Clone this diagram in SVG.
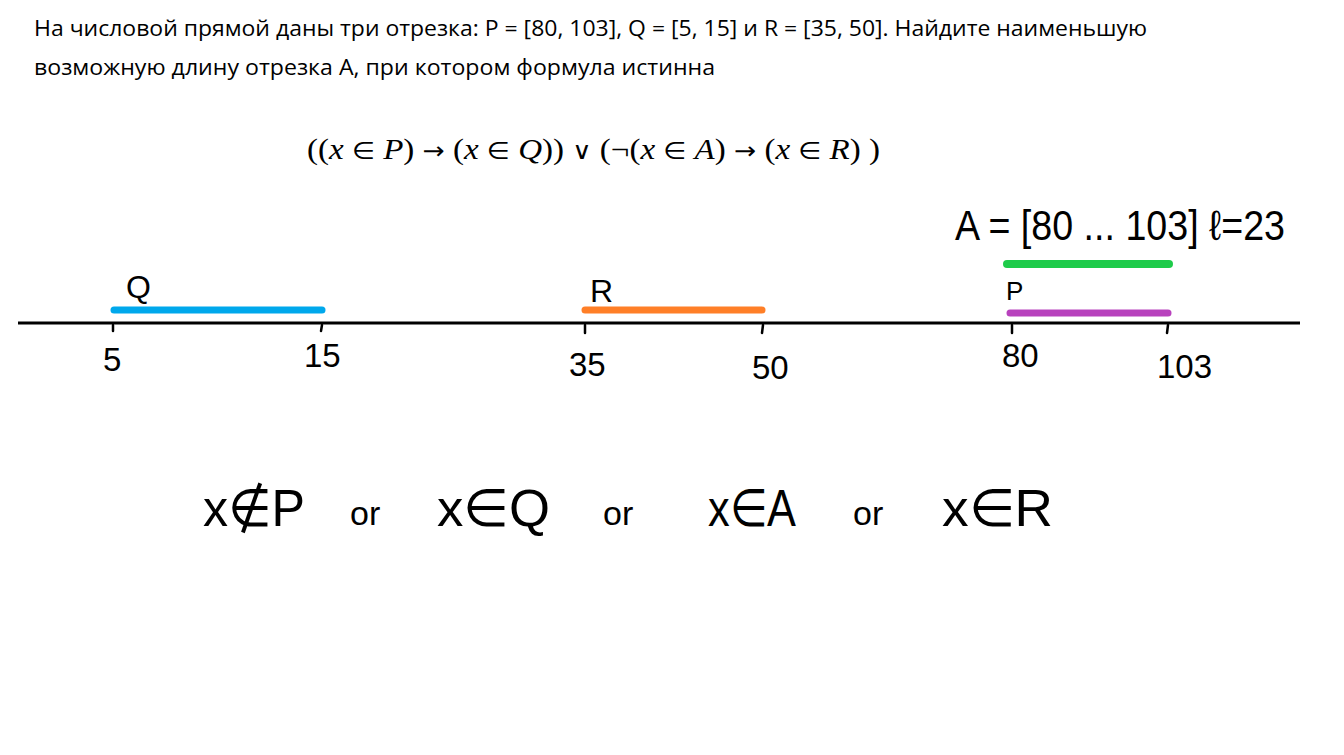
<svg xmlns="http://www.w3.org/2000/svg" width="1344" height="755" viewBox="0 0 1344 755">
<style>
.hdr{font-family:"Open Sans","Liberation Sans",sans-serif;font-size:21px;fill:#000}
.fm{font-family:"Liberation Serif","Times New Roman",serif;font-size:30px;fill:#000}
.sym{font-family:"DejaVu Sans",sans-serif;font-size:24px;font-weight:normal}
.hand{font-family:"Liberation Sans",sans-serif;fill:#000}
.num{font-size:33px}
.big{font-size:52px}
.or{font-size:34px}
.bar{stroke-linecap:round;fill:none}
.tick{stroke:#000;stroke-width:2.5;stroke-linecap:round}
</style>
<rect width="1344" height="755" fill="#fff"/>
<g id="header">
<text class="hdr" x="34" y="36" textLength="1113" lengthAdjust="spacingAndGlyphs">На числовой прямой даны три отрезка: P = [80, 103], Q = [5, 15] и R = [35, 50]. Найдите наименьшую</text>
<text class="hdr" x="34" y="75" textLength="681" lengthAdjust="spacingAndGlyphs">возможную длину отрезка A, при котором формула  истинна</text>
</g>
<g id="formula">
<text class="fm" x="307" y="159" textLength="573" lengthAdjust="spacingAndGlyphs">((<tspan font-style="italic">x</tspan> <tspan class="sym">∈</tspan> <tspan font-style="italic">P</tspan>) <tspan class="sym">→</tspan> (<tspan font-style="italic">x</tspan> <tspan class="sym">∈</tspan> <tspan font-style="italic">Q</tspan>)) <tspan class="sym">∨</tspan> (¬(<tspan font-style="italic">x</tspan> <tspan class="sym">∈</tspan> <tspan font-style="italic">A</tspan>) <tspan class="sym">→</tspan> (<tspan font-style="italic">x</tspan> <tspan class="sym">∈</tspan> <tspan font-style="italic">R</tspan>) )</text>
</g>
<g id="axis">
<line x1="18" y1="323" x2="1300" y2="323" stroke="#000" stroke-width="3"/>
<line class="tick" x1="113" y1="325" x2="113" y2="331"/>
<line class="tick" x1="322" y1="325" x2="321" y2="331"/>
<line class="tick" x1="585" y1="325" x2="585" y2="333"/>
<line class="tick" x1="763" y1="325" x2="762" y2="333"/>
<line class="tick" x1="1012" y1="325" x2="1012" y2="333"/>
<line class="tick" x1="1168" y1="325" x2="1167" y2="333"/>
<text class="hand num" x="103" y="371">5</text>
<text class="hand num" x="304" y="367">15</text>
<text class="hand num" x="569" y="376">35</text>
<text class="hand num" x="752" y="379">50</text>
<text class="hand num" x="1002" y="367">80</text>
<text class="hand num" x="1157" y="378">103</text>
</g>
<g id="Q">
<line class="bar" x1="114" y1="310" x2="322" y2="310" stroke="#00a8ec" stroke-width="7"/>
<text class="hand" x="126" y="298" font-size="32" fill="#00a8ec">Q</text>
</g>
<g id="R">
<line class="bar" x1="585" y1="310" x2="762" y2="310" stroke="#ff7f27" stroke-width="7"/>
<text class="hand" x="590" y="302" font-size="32" fill="#ff7f27">R</text>
</g>
<g id="P">
<line class="bar" x1="1010" y1="313" x2="1168" y2="313" stroke="#b842bd" stroke-width="7"/>
<text class="hand" x="1006" y="300" font-size="26" fill="#b842bd">P</text>
</g>
<g id="A">
<line class="bar" x1="1007" y1="264" x2="1169" y2="264" stroke="#1ecb4a" stroke-width="8"/>
<text class="hand" x="955" y="240" font-size="42" fill="#1ecb4a" textLength="330" lengthAdjust="spacingAndGlyphs">A = [80 ... 103] ℓ=23</text>
</g>
<g id="bottom">
<text class="hand big" x="203" y="526" textLength="102" lengthAdjust="spacingAndGlyphs">x∉P</text>
<text class="hand or" x="350" y="525">or</text>
<text class="hand big" x="437" y="526" textLength="113" lengthAdjust="spacingAndGlyphs">x∈Q</text>
<text class="hand or" x="603" y="525">or</text>
<text class="hand big" x="708" y="526" textLength="88" lengthAdjust="spacingAndGlyphs">x∈A</text>
<text class="hand or" x="853" y="525">or</text>
<text class="hand big" x="942" y="526" textLength="111" lengthAdjust="spacingAndGlyphs">x∈R</text>
</g>
</svg>
